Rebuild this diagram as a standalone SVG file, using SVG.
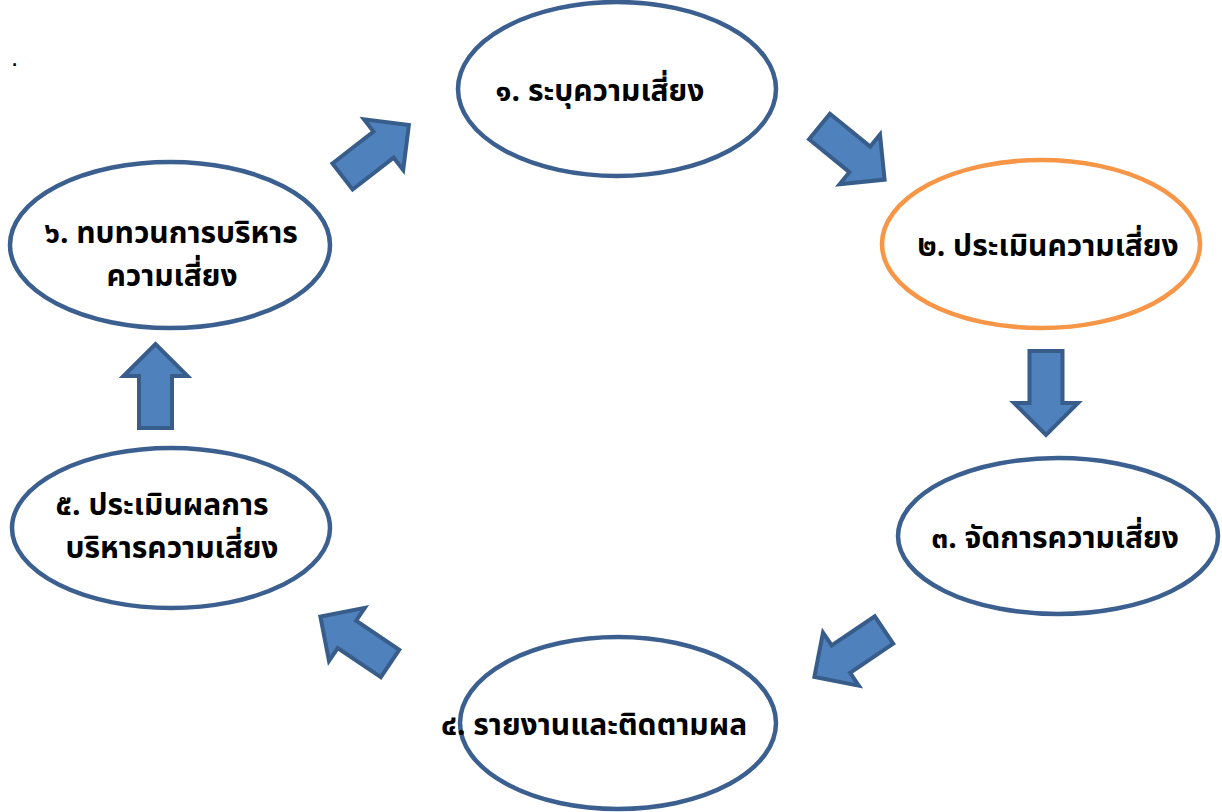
<svg xmlns="http://www.w3.org/2000/svg" width="1222" height="812" viewBox="0 0 1222 812">
<style>
.node{fill:#ffffff;stroke:#3b5f8f;stroke-width:4.5}
.hl{stroke:#f79646}
.t{font-family:"Noto Sans Thai","Noto Sans","Liberation Sans",sans-serif;font-weight:bold;font-size:30px;fill:#000;text-anchor:middle}
.arr{fill:#4f81bd;stroke:#385d8a;stroke-width:4;stroke-linejoin:miter}
</style>
<defs>
<path id="arrow" d="M0,-16.5 L52,-16.5 L52,-32 L84,0 L52,32 L52,16.5 L0,16.5 Z"/>
</defs>
<rect width="1222" height="812" fill="#ffffff"/>
<text x="11" y="66" style="font-family:'Liberation Sans',sans-serif;font-size:26px">.</text>
<g id="connectors">
<use href="#arrow" class="arr" transform="translate(342.5,176.5) rotate(-37.8)"/>
<use href="#arrow" class="arr" transform="translate(819.5,126.5) rotate(39.2)"/>
<use href="#arrow" class="arr" transform="translate(1046,351) rotate(90)"/>
<use href="#arrow" class="arr" transform="translate(884,630) rotate(146)"/>
<use href="#arrow" class="arr" transform="translate(390,663.5) rotate(-146)"/>
<use href="#arrow" class="arr" transform="translate(155.5,428) rotate(-90)"/>
</g>
<g id="node1">
<ellipse class="node" cx="617" cy="89" rx="159" ry="87"/>
<text class="t" x="600" y="101">๑. ระบุความเสี่ยง</text>
</g>
<g id="node2">
<ellipse class="node hl" cx="1041" cy="244" rx="159" ry="84"/>
<text class="t" x="1048" y="256">๒. ประเมินความเสี่ยง</text>
</g>
<g id="node3">
<ellipse class="node" cx="1058" cy="536" rx="160" ry="78"/>
<text class="t" x="1055" y="548">๓. จัดการความเสี่ยง</text>
</g>
<g id="node4">
<ellipse class="node" cx="618" cy="723" rx="158" ry="86"/>
<text class="t" x="594" y="735">๔. รายงานและติดตามผล</text>
</g>
<g id="node5">
<ellipse class="node" cx="171" cy="528" rx="159" ry="80"/>
<text class="t" x="162" y="515">๕. ประเมินผลการ</text>
<text class="t" x="172" y="558">บริหารความเสี่ยง</text>
</g>
<g id="node6">
<ellipse class="node" cx="170" cy="245" rx="160" ry="83"/>
<text class="t" x="171" y="243">๖. ทบทวนการบริหาร</text>
<text class="t" x="172" y="286">ความเสี่ยง</text>
</g>
</svg>
